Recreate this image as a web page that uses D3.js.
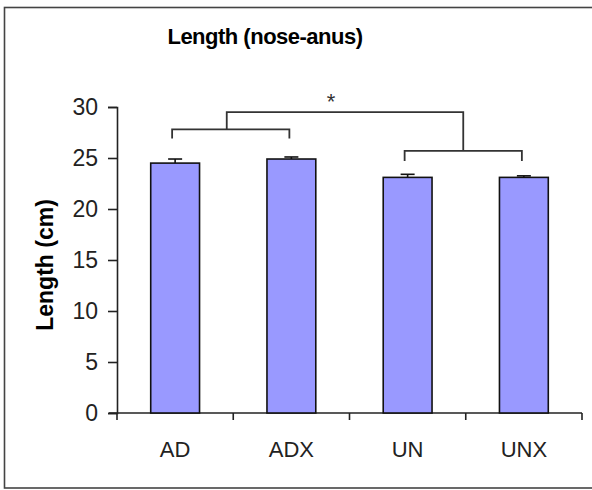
<!DOCTYPE html>
<html>
<head>
<meta charset="utf-8">
<title>Length (nose-anus)</title>
<style>
  body { margin: 0; background: #fff; }
  text { font-family: Arial, "Liberation Sans", sans-serif; }
</style>
</head>
<body>
<svg width="592" height="490"></svg>
<script src="https://cdn.jsdelivr.net/npm/d3@7"></script>
<script>
// data
const groups = ["AD", "ADX", "UN", "UNX"]
const means = [24.5, 24.9, 23.1, 23.1]
const errs = [0.4, 0.2, 0.3, 0.15]
const yTicks = [0, 5, 10, 15, 20, 25, 30]
// significance brackets: [from, to, level(cm), leg drop(cm)]
const pairLeft = ["AD", "ADX", 27.8, 0.9]
const pairRight = ["UN", "UNX", 25.7, 1.0]
const topLevel = 29.5
const starLabel = "*"

const svg = d3.select("svg")

// outer frame
svg.append("rect")
  .attr("x", 4.5).attr("y", 7.5).attr("width", 600).attr("height", 480.5)
  .attr("fill", "none").attr("stroke", "#444").attr("stroke-width", 1.6)

const x = d3.scaleBand().domain(groups).range([117, 582])
const y = d3.scaleLinear().domain([0, 30]).range([413, 107])
const barW = x.bandwidth() * 0.42
const cx = g => x(g) + x.bandwidth() / 2

// title
svg.append("text")
  .attr("x", 265).attr("y", 44)
  .attr("text-anchor", "middle")
  .style("font-size", "22px").style("font-weight", "bold")
  .style("letter-spacing", "-0.5px")
  .text("Length (nose-anus)")

// y axis
const yAxis = svg.append("g").attr("transform", "translate(117,0)")
  .call(d3.axisLeft(y).tickValues(yTicks).tickSize(9).tickPadding(10))
yAxis.select(".domain").attr("stroke", "#222").attr("stroke-width", 1.6)
yAxis.selectAll(".tick line").attr("stroke", "#222").attr("stroke-width", 1.6)
yAxis.selectAll(".tick text")
  .style("font-size", "23px").attr("fill", "#222")
  .style("font-family", "Arial, 'Liberation Sans', sans-serif")

// y axis title
svg.append("text")
  .attr("transform", "translate(53,265) rotate(-90)")
  .attr("text-anchor", "middle")
  .style("font-size", "23px").style("font-weight", "bold")
  .text("Length (cm)")

// x axis: baseline + ticks between categories
const xa = svg.append("g")
xa.append("line")
  .attr("x1", 109).attr("x2", x.range()[1])
  .attr("y1", y(0)).attr("y2", y(0))
  .attr("stroke", "#222").attr("stroke-width", 1.6)
const edges = groups.map(g => x(g)).concat([x.range()[1]])
xa.selectAll("line.tk").data(edges).enter().append("line")
  .attr("class", "tk")
  .attr("x1", d => d).attr("x2", d => d)
  .attr("y1", y(0)).attr("y2", y(0) + 7)
  .attr("stroke", "#222").attr("stroke-width", 1.6)
xa.selectAll("text").data(groups).enter().append("text")
  .attr("x", d => cx(d)).attr("y", 457)
  .attr("text-anchor", "middle")
  .style("font-size", "22px").attr("fill", "#222")
  .text(d => d)

// bars
const data = groups.map((g, i) => ({ g, m: means[i], e: errs[i] }))
svg.append("g").selectAll("rect").data(data).enter().append("rect")
  .attr("x", d => cx(d.g) - barW / 2)
  .attr("y", d => y(d.m))
  .attr("width", barW)
  .attr("height", d => y(0) - y(d.m))
  .attr("fill", "#9999ff")
  .attr("stroke", "#111").attr("stroke-width", 1.6)

// error bars (upper only)
const eb = svg.append("g").attr("stroke", "#111").attr("stroke-width", 1.6)
eb.selectAll("line.v").data(data).enter().append("line")
  .attr("x1", d => cx(d.g)).attr("x2", d => cx(d.g))
  .attr("y1", d => y(d.m)).attr("y2", d => y(d.m + d.e))
eb.selectAll("line.h").data(data).enter().append("line")
  .attr("x1", d => cx(d.g) - 7).attr("x2", d => cx(d.g) + 7)
  .attr("y1", d => y(d.m + d.e)).attr("y2", d => y(d.m + d.e))

// brackets
const br = svg.append("g").attr("fill", "none").attr("stroke", "#333").attr("stroke-width", 1.8)
function bracket(p) {
  const x1 = cx(p[0]) - 3, x2 = cx(p[1]) - 2
  const yl = y(p[2]), yb = y(p[2] - p[3])
  br.append("path").attr("d", `M${x1},${yb}V${yl}H${x2}V${yb}`)
  return (x1 + x2) / 2
}
const midL = bracket(pairLeft) - 4
const midR = bracket(pairRight)
br.append("path")
  .attr("d", `M${midL},${y(pairLeft[2])}V${y(topLevel)}H${midR}V${y(pairRight[2])}`)

svg.append("text")
  .attr("x", 331).attr("y", y(topLevel) - 3)
  .attr("text-anchor", "middle")
  .style("font-size", "22px").attr("fill", "#333")
  .text(starLabel)
</script>
</body>
</html>
